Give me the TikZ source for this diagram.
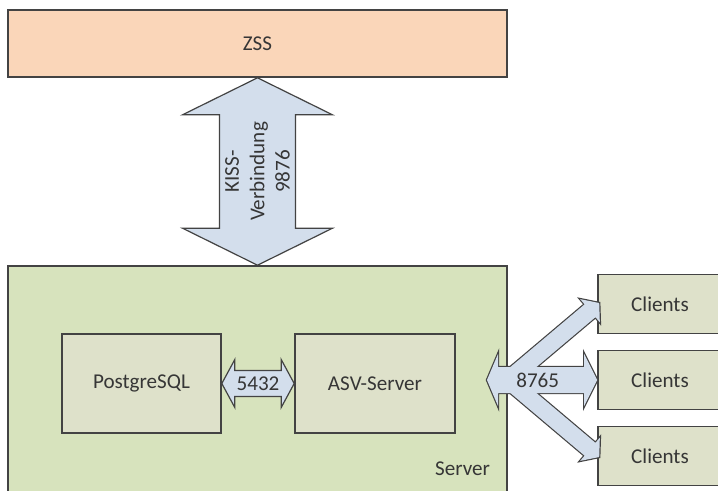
\documentclass[tikz,border=0pt]{standalone}
\usepackage{fontspec}
\setmainfont{Carlito}
\usetikzlibrary{calc}
\definecolor{Frame}{HTML}{434343}
\definecolor{Label}{HTML}{363636}
\definecolor{Peach}{HTML}{FAD6B9}
\definecolor{Olive}{HTML}{D7E3BD}
\definecolor{Sage}{HTML}{DEE1CA}
\definecolor{Steel}{HTML}{D3DEEC}

\begin{document}
\begin{tikzpicture}[x=0.25mm,y=-0.25mm,
    every node/.style={font=\fontsize{15}{18}\selectfont,text=Label},
    box/.style={draw=Frame,line width=0.4mm,inner sep=0pt},
    tile/.style={box,fill=Sage,minimum width=31mm,minimum height=14.75mm},
    block/.style={draw=Frame,line width=0.3mm,fill=Steel},
    hubline/.style={draw=Frame,line width=0.6mm},
    hubfill/.style={fill=Steel}]
        \useasboundingbox (0,0) rectangle (718,490);
        \clip (0,0) rectangle (718,490);
        % boxes
        \node[box,fill=Peach,minimum width=124.75mm,minimum height=16.75mm]
              (zss) at (257.5,43.5) {ZSS};
        \node[box,fill=Olive,minimum width=124.75mm,minimum height=66mm]
              (server) at (257.5,398) {};
        \node[anchor=base east] (srvname) at (495,475) {Server};
        \node[box,fill=Sage,minimum width=39.75mm,minimum height=24.75mm]
              (pgsql) at (141.5,383.5) {PostgreSQL};
        \node[box,fill=Sage,minimum width=40mm,minimum height=24.75mm]
              (asv) at (375,383.5) {ASV-Server};
        \node[tile] (client1) at (660,304) {Clients};
        \node[tile] (client2) at (660,380) {Clients};
        \node[tile] (client3) at (660,456) {Clients};
        % KISS link between ZSS and server
        \draw[block] (zss.south) -- ++(75,37) -- ++(-37,0)
              -- ($(server.north)+(38,-37)$) -- ++(37,0) -- (server.north)
              -- ++(-75,-37) -- ++(37,0) -- ($(zss.south)+(-38,37)$)
              -- ++(-37,0) -- cycle;
        \node[rotate=90,align=center] (kiss)
              at ($(zss.south)!0.5!(server.north)$) {KISS-\\Verbindung\\9876};
        % database link
        \draw[block] (pgsql.east) -- ++(13,-24) -- ++(0,11)
              -- ($(asv.west)+(-13,-13)$) -- ++(0,-11) -- (asv.west)
              -- ++(-13,24) -- ++(0,-11) -- ($(pgsql.east)+(13,13)$)
              -- ++(0,11) -- cycle;
        \node (port5432) at ($(pgsql.east)!0.5!(asv.west)$) {5432};
        % 8765 fan-out to the clients
        \coordinate (hub) at (487,380);
        \coordinate (fork) at (508,380);
        \coordinate (t1) at ($(client1.west)+(2,-1)$);
        \coordinate (t3) at ($(client3.west)+(2,1)$);
        \coordinate (h1) at ($(t1)!3mm!(fork)$);
        \coordinate (h3) at ($(t3)!3mm!(fork)$);
        \foreach \pass in {hubline,hubfill}{
          \path[\pass] (hub) -- ++(11,-26) -- ++(0,13)
                -- ($(client2.west)+(-13,-13)$) -- ++(0,-13) -- (client2.west)
                -- ++(-13,26) -- ++(0,-13) -- ($(hub)+(11,13)$) -- ++(0,13) -- cycle;
          \path[\pass] ($(fork)!2.1mm!90:(t1)$) -- ($(h1)!2.1mm!90:(t1)$)
                -- ($(h1)!3.8mm!90:(t1)$) -- (t1) -- ($(h1)!3.8mm!-90:(t1)$)
                -- ($(h1)!2.1mm!-90:(t1)$) -- ($(fork)!2.1mm!-90:(t1)$) -- cycle;
          \path[\pass] ($(fork)!2.1mm!90:(t3)$) -- ($(h3)!2.1mm!90:(t3)$)
                -- ($(h3)!3.8mm!90:(t3)$) -- (t3) -- ($(h3)!3.8mm!-90:(t3)$)
                -- ($(h3)!2.1mm!-90:(t3)$) -- ($(fork)!2.1mm!-90:(t3)$) -- cycle;
        }
        \node (port8765) at ($(hub)!0.46!(client2.west)$) {8765};
      \end{tikzpicture}
\end{document}
